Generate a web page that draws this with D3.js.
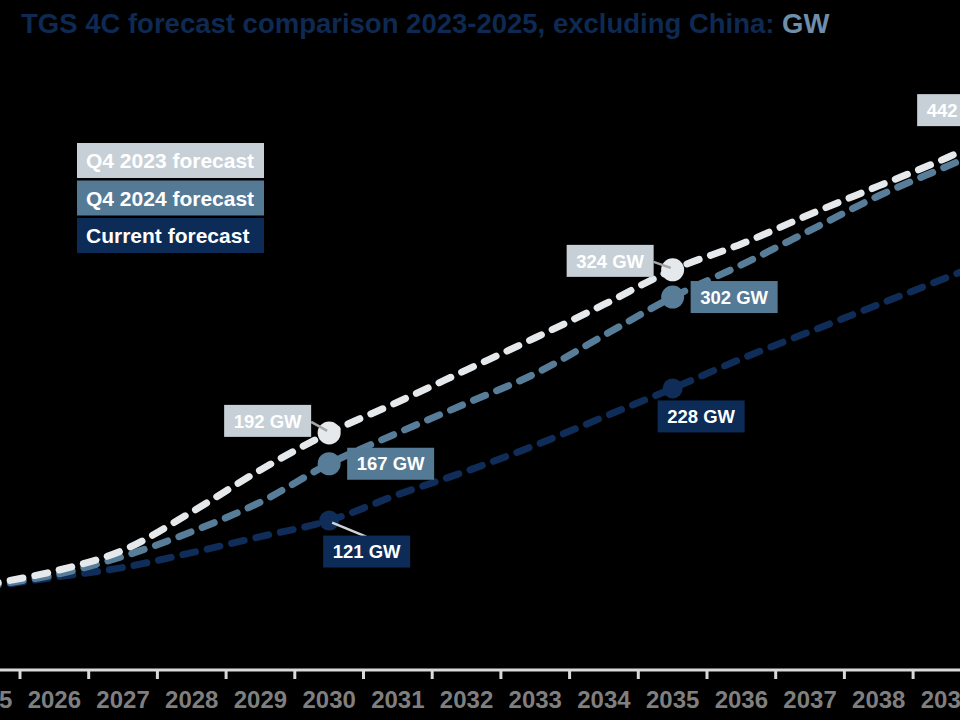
<!DOCTYPE html>
<html><head><meta charset="utf-8">
<script src="https://cdn.jsdelivr.net/npm/d3@7"></script>
<style>html,body{margin:0;padding:0;background:#000;}svg{display:block;}</style>
</head><body>
<script>
const years = [2025,2026,2027,2028,2029,2030,2031,2032,2033,2034,2035,2036,2037,2038,2039,2040];
const q42023 = [69,80,97,128,162,192,217,243,269,296,324,345,369,392,415,442];
const q42024 = [68,77,92,112,136,167,192,216,240,271,302,328,356,384,408,432];
const currentFc = [67,75,83,95,108,121,142,161,182,205,228,252,274,296,318,340];
const seriesNames = ["Q4 2023 forecast","Q4 2024 forecast","Current forecast"];
const annotYears = [2030,2035];
const titleMain = "TGS 4C forecast comparison 2023-2025, excluding China: ";
const titleUnit = "GW";

const W=960,H=720;
const colors = {light:"#e6e9ec", lightBox:"#c7cfd7", steel:"#587d99", steelBox:"#557a96", navy:"#0f2d58", navyBox:"#0c2b56"};
const svg = d3.select("body").append("svg").attr("width",W).attr("height",H).style("background","#000");

const step = 68.7;
const x = d3.scaleBand().domain(years).range([20-step, 20-step+years.length*step]).padding(0);
const xc = d => x(d)+x.bandwidth()/2;
const y = d3.scaleLinear().domain([0,500]).range([670,52.5]);

// title
const t = svg.append("text").attr("x",21).attr("y",33)
  .style("font-family","'Liberation Sans',Arial,sans-serif").style("font-weight","bold").style("font-size","27.5px");
t.append("tspan").attr("fill","#0e2a52").text(titleMain);
t.append("tspan").attr("fill","#6f8ea9").text(titleUnit);

// axis
const axisG = svg.append("g").attr("transform",`translate(0,${y(0)})`);
const ax = d3.axisBottom(x).tickSize(0).tickPadding(30);
axisG.call(ax);
axisG.select(".domain").remove();
axisG.append("line").attr("x1",0).attr("x2",W).attr("y1",0).attr("y2",0).attr("stroke","#d9d9d9").attr("stroke-width",3);
axisG.selectAll(".btick").data(years).enter().append("line").attr("class","btick")
  .attr("x1",d=>x(d)).attr("x2",d=>x(d)).attr("y1",0).attr("y2",9).attr("stroke","#d9d9d9").attr("stroke-width",3);
axisG.selectAll(".tick text").attr("fill","#7f7f7f")
  .style("font-family","'Liberation Sans',Arial,sans-serif").style("font-weight","bold").style("font-size","24px")
  .attr("dy","0.71em").attr("y",21);

// lines
const line = d3.line().x((d,i)=>xc(years[i])).y(d=>y(d)).curve(d3.curveCatmullRom.alpha(0.5));
const series = [
  {vals:currentFc, col:colors.navy, box:colors.navyBox},
  {vals:q42024, col:colors.steel, box:colors.steelBox},
  {vals:q42023, col:colors.light, box:colors.lightBox}
];
series.forEach(s=>{
  svg.append("path").attr("d",line(s.vals)).attr("fill","none").attr("stroke",s.col)
    .attr("stroke-width",7).attr("stroke-dasharray","13 12").attr("stroke-linecap","round");
});

// markers
series.forEach((s,k)=>{
  annotYears.forEach(yr=>{
    const i = years.indexOf(yr);
    svg.append("circle").attr("cx",xc(yr)).attr("cy",y(s.vals[i])).attr("r",k===0?10:11.5).attr("fill",s.col);
  });
});

// annotations
function label(val, yr, fill, placement){
  const mx = xc(yr), my = y(val);
  const bw = 87, bh = 32;
  let bx, by;
  if(placement==="left"){ bx = mx-18-bw; by = my-12-bh/2; }
  else if(placement==="left2"){ bx = mx-19-bw; by = my-9-bh/2; }
  else if(placement==="right"){ bx = mx+18; by = my-bh/2; }
  else if(placement==="below"){ bx = mx-6; by = my+15; }
  else if(placement==="below2"){ bx = mx-15; by = my+12; }
  else if(placement==="leftEnd"){ bx = mx-99; by = my-16-bh/2+2; }
  if(placement==="left"||placement==="left2"||placement==="leftEnd"){
    svg.append("line").attr("x1",bx+bw).attr("y1",by+bh/2+1).attr("x2",mx-2).attr("y2",my-2)
      .attr("stroke","#a6a6a6").attr("stroke-width",2.5);
  }
  if(placement==="below"){
    svg.append("line").attr("x1",mx+3).attr("y1",my+2).attr("x2",mx+37).attr("y2",my+16)
      .attr("stroke","#cfd3d8").attr("stroke-width",2.5);
  }
  svg.append("rect").attr("x",bx).attr("y",by).attr("width",bw).attr("height",bh).attr("fill",fill);
  svg.append("text").attr("x",bx+bw/2).attr("y",by+bh/2).attr("dy","0.36em").attr("text-anchor","middle")
    .attr("fill","#ffffff").style("font-family","'Liberation Sans',Arial,sans-serif").style("font-weight","bold").style("font-size","18.5px")
    .text(val+" GW");
}
label(q42023[years.indexOf(2030)],2030,colors.lightBox,"left");
label(q42024[years.indexOf(2030)],2030,colors.steelBox,"right");
label(currentFc[years.indexOf(2030)],2030,colors.navyBox,"below");
label(q42023[years.indexOf(2035)],2035,colors.lightBox,"left2");
label(q42024[years.indexOf(2035)],2035,colors.steelBox,"right");
label(currentFc[years.indexOf(2035)],2035,colors.navyBox,"below2");
label(q42023[years.indexOf(2040)],2040,colors.lightBox,"leftEnd");

// legend
const legFills = [colors.lightBox, colors.steelBox, colors.navyBox];
const lg = svg.append("g");
seriesNames.forEach((n,i)=>{
  lg.append("rect").attr("x",77).attr("y",143+i*37.5).attr("width",187).attr("height",35).attr("fill",legFills[i]);
  lg.append("text").attr("x",86).attr("y",143+i*37.5+17.5).attr("dy","0.36em").attr("fill","#fff")
    .style("font-family","'Liberation Sans',Arial,sans-serif").style("font-weight","bold").style("font-size","21px").text(n);
});
</script>
</body></html>
